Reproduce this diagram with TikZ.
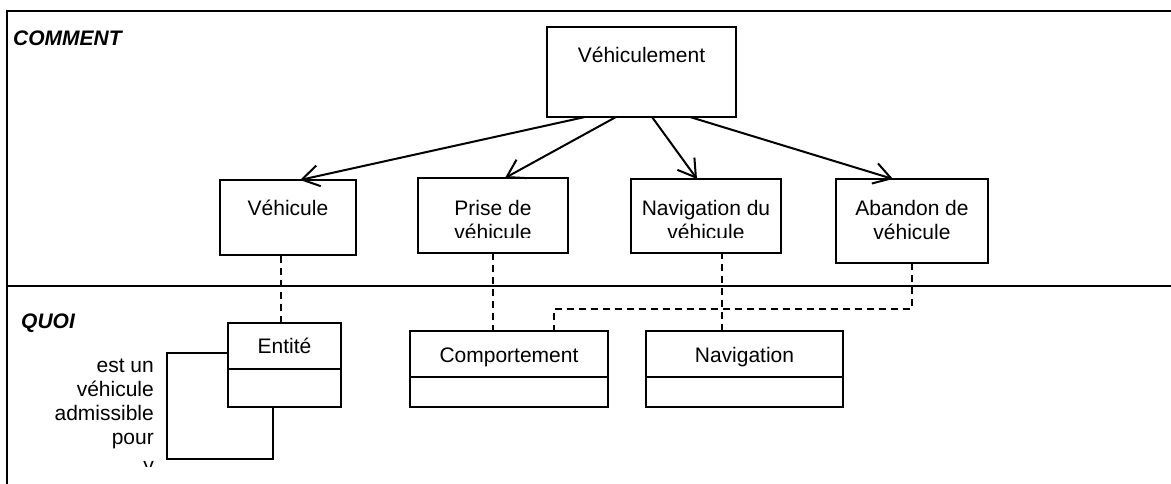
\documentclass[tikz,border=0pt]{standalone}
\usepackage{fontspec}
\setmainfont{Liberation Sans}
\usetikzlibrary{arrows.meta}
\tikzset{
  box/.style={draw, line width=2pt, inner sep=0pt, outer sep=0pt, anchor=north west},
  lbl/.style={font=\fontsize{21}{24}\selectfont, inner sep=0pt, anchor=base},
  rlbl/.style={font=\fontsize{21}{24}\selectfont, inner sep=0pt, anchor=base east},
  title/.style={font=\fontsize{21}{24}\selectfont\bfseries\itshape, inner sep=0pt, anchor=base west},
  frame/.style={line width=2pt},
  dep/.style={line width=2pt, dash pattern=on 7pt off 5pt},
  rel/.style={line width=2pt},
  arr/.style={line width=2pt, -{Straight Barb[length=17pt,width=21pt]}}
}
\begin{document}
\begin{tikzpicture}[x=1pt,y=-1pt]
\useasboundingbox (0,0) rectangle (1171,484);
% frame and separator
\coordinate (ftl) at (7,11);
\coordinate (ftr) at (1171,11);
\coordinate (fbl) at (7,484);
\coordinate (sl) at (7,285.5);
\coordinate (sr) at (1171,285.5);
\draw[frame] (ftr) -- (ftl) -- (fbl);
\draw[frame] (sl) -- (sr);
\node[title] (comment) at (13,46) {COMMENT};
\node[title] (quoi) at (21,328) {QUOI};

% COMMENT boxes
\node[box, minimum width=189pt, minimum height=90pt] (top) at (547,27) {};
\node[lbl] (toptxt) at (641.5,63) {Véhiculement};
\node[box, minimum width=136pt, minimum height=75pt] (veh) at (220,180) {};
\node[lbl] (vehtxt) at (288,215) {Véhicule};
\node[box, minimum width=150pt, minimum height=75pt] (prise) at (418,178) {};
\node[box, minimum width=150pt, minimum height=74pt] (navv) at (631,179) {};
\node[box, minimum width=152pt, minimum height=84pt] (aband) at (836,179) {};
\begin{scope}
  \clip (418,178) rectangle (568,237);
  \node[lbl] (prise1) at (493,215) {Prise de};
  \node[lbl] (prise2) at (493,240) {véhicule};
\end{scope}
\begin{scope}
  \clip (631,179) rectangle (781,237);
  \node[lbl] (navv1) at (706,215) {Navigation du};
  \node[lbl] (navv2) at (706,240) {véhicule};
\end{scope}
\node[lbl] (aband1) at (912,215) {Abandon de};
\node[lbl] (aband2) at (912,240) {véhicule};

% arrows
\draw[arr] ([xshift=38pt]top.south west) -- ([xshift=80pt]veh.north west);
\draw[arr] ([xshift=69pt]top.south west) -- ([xshift=87pt]prise.north west);
\draw[arr] ([xshift=105pt]top.south west) -- ([xshift=66pt]navv.north west);
\draw[arr] ([xshift=143pt]top.south west) -- ([xshift=57pt]aband.north west);

% QUOI classes
\node[box, minimum width=113pt, minimum height=84pt] (ent) at (228,323) {};
\draw[rel] ([yshift=-46pt]ent.north west) -- ([yshift=-46pt]ent.north east);
\node[lbl] (enttxt) at (284.5,353) {Entité};
\node[box, minimum width=198pt, minimum height=76pt] (comp) at (410,331) {};
\draw[rel] ([yshift=-46pt]comp.north west) -- ([yshift=-46pt]comp.north east);
\node[lbl] (comptxt) at (509,362) {Comportement};
\node[box, minimum width=197pt, minimum height=76pt] (nav) at (646,331) {};
\draw[rel] ([yshift=-46pt]nav.north west) -- ([yshift=-46pt]nav.north east);
\node[lbl] (navtxt) at (744.5,362) {Navigation};

% dashed dependencies
\draw[dep] ([xshift=-3.5pt]ent.north) -- ([xshift=-3.5pt]ent.north |- veh.south);
\draw[dep] (prise.south) -- (prise.south |- comp.north);
\draw[dep] ([xshift=-22.5pt]nav.north) -- ([xshift=-22.5pt]nav.north |- navv.south);
\coordinate (c1) at (554,309);
\draw[dep] (aband.south) |- (c1) -- (c1 |- comp.north);

% self association on Entité
\coordinate (c2) at (167,459);
\coordinate (c3) at (273,459);
\draw[rel] ([yshift=12pt]ent.west) -| (c2) -- (c3) -- (c3 |- ent.south);
\begin{scope}
  \clip (0,0) rectangle (1171,466);
  \node[rlbl] (l1) at (154,372) {est un};
  \node[rlbl] (l2) at (154,396) {véhicule};
  \node[rlbl] (l3) at (154,420) {admissible};
  \node[rlbl] (l4) at (154,444) {pour};
  \node[rlbl] (l5) at (154,472) {y};
\end{scope}
\end{tikzpicture}
\end{document}
